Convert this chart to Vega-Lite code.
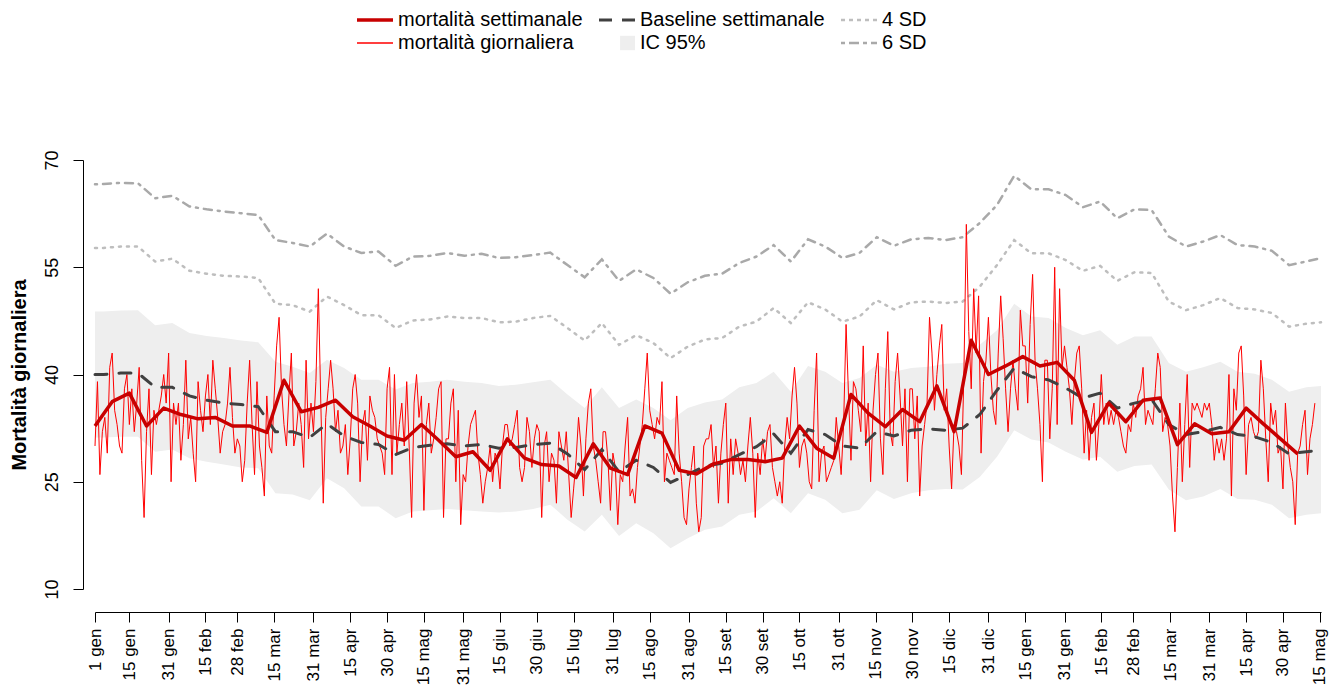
{
"$schema": "https://vega.github.io/schema/vega-lite/v6.json",
"width": 1226, "height": 429,
"autosize": {"type": "none"},
"padding": {"left": 95, "top": 160, "right": 13, "bottom": 105},
"background": "white",
"config": {"view": {"stroke": null}, "font": "Liberation Sans", "axis": {"grid": false, "domainColor": "#000", "tickColor": "#000", "labelColor": "#000", "titleColor": "#000", "labelFont": "Liberation Sans", "titleFont": "Liberation Sans"}},
"datasets": {
"riferimento": [
{"data":"2018-01-01T00:00:00Z","baseline":40.0,"ic_inf":31.2,"ic_sup":48.8,"sd4":57.7,"sd6":66.6},
{"data":"2018-01-04T12:00:00Z","baseline":40.0,"ic_inf":31.2,"ic_sup":48.8,"sd4":57.7,"sd6":66.65},
{"data":"2018-01-11T12:00:00Z","baseline":40.2,"ic_inf":31.3,"ic_sup":48.95,"sd4":57.9,"sd6":66.8},
{"data":"2018-01-18T12:00:00Z","baseline":40.2,"ic_inf":31.3,"ic_sup":49.0,"sd4":57.9,"sd6":66.75},
{"data":"2018-01-25T12:00:00Z","baseline":38.2,"ic_inf":29.2,"ic_sup":46.9,"sd4":55.8,"sd6":64.65},
{"data":"2018-02-01T12:00:00Z","baseline":38.2,"ic_inf":29.5,"ic_sup":47.2,"sd4":56.2,"sd6":65.0},
{"data":"2018-02-08T12:00:00Z","baseline":37.0,"ic_inf":28.3,"ic_sup":45.8,"sd4":54.5,"sd6":63.5},
{"data":"2018-02-15T12:00:00Z","baseline":36.4,"ic_inf":27.8,"ic_sup":45.4,"sd4":54.1,"sd6":63.1},
{"data":"2018-02-22T12:00:00Z","baseline":36.0,"ic_inf":27.4,"ic_sup":45.1,"sd4":53.8,"sd6":62.8},
{"data":"2018-03-01T12:00:00Z","baseline":35.8,"ic_inf":27.0,"ic_sup":44.75,"sd4":53.7,"sd6":62.55},
{"data":"2018-03-08T12:00:00Z","baseline":35.5,"ic_inf":26.9,"ic_sup":44.5,"sd4":53.5,"sd6":62.3},
{"data":"2018-03-15T12:00:00Z","baseline":32.0,"ic_inf":23.4,"ic_sup":41.8,"sd4":49.9,"sd6":58.8},
{"data":"2018-03-22T12:00:00Z","baseline":32.0,"ic_inf":23.2,"ic_sup":41.1,"sd4":49.7,"sd6":58.4},
{"data":"2018-03-29T12:00:00Z","baseline":31.2,"ic_inf":22.4,"ic_sup":40.2,"sd4":48.8,"sd6":57.9},
{"data":"2018-04-05T12:00:00Z","baseline":33.1,"ic_inf":25.5,"ic_sup":42.05,"sd4":50.9,"sd6":59.7},
{"data":"2018-04-12T12:00:00Z","baseline":31.4,"ic_inf":24.1,"ic_sup":40.9,"sd4":49.7,"sd6":57.9},
{"data":"2018-04-19T12:00:00Z","baseline":30.5,"ic_inf":21.55,"ic_sup":39.25,"sd4":48.3,"sd6":57.0},
{"data":"2018-04-26T12:00:00Z","baseline":30.2,"ic_inf":21.55,"ic_sup":39.25,"sd4":48.3,"sd6":57.2},
{"data":"2018-05-03T12:00:00Z","baseline":28.8,"ic_inf":19.9,"ic_sup":37.9,"sd4":46.5,"sd6":55.2},
{"data":"2018-05-10T12:00:00Z","baseline":29.8,"ic_inf":20.85,"ic_sup":38.8,"sd4":47.55,"sd6":56.5},
{"data":"2018-05-17T12:00:00Z","baseline":30.1,"ic_inf":21.0,"ic_sup":39.0,"sd4":47.7,"sd6":56.6},
{"data":"2018-05-24T12:00:00Z","baseline":30.3,"ic_inf":21.2,"ic_sup":39.25,"sd4":48.1,"sd6":57.0},
{"data":"2018-05-31T12:00:00Z","baseline":30.0,"ic_inf":21.0,"ic_sup":39.0,"sd4":47.9,"sd6":56.6},
{"data":"2018-06-07T12:00:00Z","baseline":30.2,"ic_inf":20.85,"ic_sup":38.8,"sd4":47.9,"sd6":56.9},
{"data":"2018-06-14T12:00:00Z","baseline":29.7,"ic_inf":20.7,"ic_sup":38.4,"sd4":47.3,"sd6":56.3},
{"data":"2018-06-21T12:00:00Z","baseline":29.8,"ic_inf":20.85,"ic_sup":38.55,"sd4":47.4,"sd6":56.4},
{"data":"2018-06-28T12:00:00Z","baseline":30.2,"ic_inf":21.2,"ic_sup":38.9,"sd4":47.9,"sd6":56.7},
{"data":"2018-07-05T12:00:00Z","baseline":30.4,"ic_inf":21.8,"ic_sup":39.25,"sd4":48.2,"sd6":57.05},
{"data":"2018-07-12T12:00:00Z","baseline":28.9,"ic_inf":19.7,"ic_sup":37.2,"sd4":46.5,"sd6":55.3},
{"data":"2018-07-19T12:00:00Z","baseline":26.7,"ic_inf":18.05,"ic_sup":35.3,"sd4":44.75,"sd6":53.6},
{"data":"2018-07-26T12:00:00Z","baseline":29.5,"ic_inf":20.4,"ic_sup":38.2,"sd4":47.2,"sd6":56.1},
{"data":"2018-08-02T12:00:00Z","baseline":26.4,"ic_inf":17.4,"ic_sup":35.3,"sd4":44.15,"sd6":53.1},
{"data":"2018-08-09T12:00:00Z","baseline":28.0,"ic_inf":19.2,"ic_sup":36.5,"sd4":45.5,"sd6":54.7},
{"data":"2018-08-16T12:00:00Z","baseline":27.0,"ic_inf":17.8,"ic_sup":35.3,"sd4":44.4,"sd6":53.5},
{"data":"2018-08-23T12:00:00Z","baseline":24.9,"ic_inf":15.7,"ic_sup":33.6,"sd4":42.3,"sd6":51.3},
{"data":"2018-08-30T12:00:00Z","baseline":26.0,"ic_inf":17.1,"ic_sup":35.3,"sd4":43.9,"sd6":52.9},
{"data":"2018-09-06T12:00:00Z","baseline":27.2,"ic_inf":18.3,"ic_sup":36.1,"sd4":44.9,"sd6":53.8},
{"data":"2018-09-13T12:00:00Z","baseline":27.6,"ic_inf":18.75,"ic_sup":36.5,"sd4":45.1,"sd6":54.1},
{"data":"2018-09-20T12:00:00Z","baseline":28.8,"ic_inf":20.4,"ic_sup":38.2,"sd4":46.7,"sd6":55.6},
{"data":"2018-09-27T12:00:00Z","baseline":29.9,"ic_inf":20.85,"ic_sup":38.8,"sd4":47.4,"sd6":56.5},
{"data":"2018-10-04T12:00:00Z","baseline":31.7,"ic_inf":22.7,"ic_sup":40.4,"sd4":49.3,"sd6":58.1},
{"data":"2018-10-11T12:00:00Z","baseline":29.0,"ic_inf":20.6,"ic_sup":37.6,"sd4":47.2,"sd6":55.8},
{"data":"2018-10-18T12:00:00Z","baseline":32.3,"ic_inf":23.4,"ic_sup":41.2,"sd4":50.1,"sd6":58.9},
{"data":"2018-10-25T12:00:00Z","baseline":31.6,"ic_inf":22.5,"ic_sup":40.4,"sd4":49.1,"sd6":57.9},
{"data":"2018-11-01T12:00:00Z","baseline":30.0,"ic_inf":20.6,"ic_sup":38.8,"sd4":47.4,"sd6":56.3},
{"data":"2018-11-08T12:00:00Z","baseline":29.7,"ic_inf":21.1,"ic_sup":39.5,"sd4":48.1,"sd6":57.0},
{"data":"2018-11-15T12:00:00Z","baseline":32.0,"ic_inf":23.8,"ic_sup":41.35,"sd4":50.4,"sd6":59.2},
{"data":"2018-11-22T12:00:00Z","baseline":31.4,"ic_inf":22.6,"ic_sup":40.4,"sd4":49.1,"sd6":58.0},
{"data":"2018-11-29T12:00:00Z","baseline":32.2,"ic_inf":23.4,"ic_sup":40.9,"sd4":50.1,"sd6":58.9},
{"data":"2018-12-06T12:00:00Z","baseline":32.4,"ic_inf":23.8,"ic_sup":41.1,"sd4":50.2,"sd6":59.1},
{"data":"2018-12-13T12:00:00Z","baseline":32.2,"ic_inf":24.0,"ic_sup":41.5,"sd4":50.0,"sd6":58.8},
{"data":"2018-12-20T12:00:00Z","baseline":32.5,"ic_inf":23.9,"ic_sup":41.6,"sd4":50.2,"sd6":59.2},
{"data":"2018-12-27T12:00:00Z","baseline":34.4,"ic_inf":25.65,"ic_sup":44.15,"sd4":52.3,"sd6":61.2},
{"data":"2019-01-03T12:00:00Z","baseline":37.8,"ic_inf":28.5,"ic_sup":46.2,"sd4":55.3,"sd6":63.7},
{"data":"2019-01-10T12:00:00Z","baseline":40.9,"ic_inf":32.2,"ic_sup":49.9,"sd4":58.8,"sd6":67.8},
{"data":"2019-01-17T12:00:00Z","baseline":39.7,"ic_inf":30.9,"ic_sup":48.1,"sd4":56.95,"sd6":65.9},
{"data":"2019-01-24T12:00:00Z","baseline":39.25,"ic_inf":30.5,"ic_sup":47.9,"sd4":56.95,"sd6":65.9},
{"data":"2019-01-31T12:00:00Z","baseline":38.1,"ic_inf":29.2,"ic_sup":46.5,"sd4":56.0,"sd6":65.1},
{"data":"2019-02-07T12:00:00Z","baseline":36.7,"ic_inf":28.1,"ic_sup":45.5,"sd4":54.5,"sd6":63.4},
{"data":"2019-02-14T12:00:00Z","baseline":37.4,"ic_inf":28.5,"ic_sup":46.2,"sd4":55.2,"sd6":64.2},
{"data":"2019-02-21T12:00:00Z","baseline":35.3,"ic_inf":26.4,"ic_sup":44.15,"sd4":53.1,"sd6":61.85},
{"data":"2019-02-28T12:00:00Z","baseline":36.0,"ic_inf":27.2,"ic_sup":45.3,"sd4":54.3,"sd6":63.1},
{"data":"2019-03-07T12:00:00Z","baseline":36.5,"ic_inf":27.4,"ic_sup":45.3,"sd4":54.2,"sd6":63.0},
{"data":"2019-03-14T12:00:00Z","baseline":33.0,"ic_inf":23.9,"ic_sup":41.6,"sd4":50.2,"sd6":59.3},
{"data":"2019-03-21T12:00:00Z","baseline":31.6,"ic_inf":22.4,"ic_sup":40.4,"sd4":49.0,"sd6":57.9},
{"data":"2019-03-28T12:00:00Z","baseline":32.0,"ic_inf":22.95,"ic_sup":41.0,"sd4":49.7,"sd6":58.6},
{"data":"2019-04-04T12:00:00Z","baseline":32.6,"ic_inf":24.0,"ic_sup":41.8,"sd4":50.7,"sd6":59.5},
{"data":"2019-04-11T12:00:00Z","baseline":31.6,"ic_inf":22.6,"ic_sup":40.4,"sd4":49.3,"sd6":58.1},
{"data":"2019-04-18T12:00:00Z","baseline":31.3,"ic_inf":22.5,"ic_sup":40.1,"sd4":49.1,"sd6":57.9},
{"data":"2019-04-25T12:00:00Z","baseline":30.5,"ic_inf":21.8,"ic_sup":39.25,"sd4":48.6,"sd6":57.3},
{"data":"2019-05-02T12:00:00Z","baseline":28.9,"ic_inf":19.9,"ic_sup":37.6,"sd4":46.7,"sd6":55.3},
{"data":"2019-05-09T12:00:00Z","baseline":29.2,"ic_inf":20.4,"ic_sup":38.2,"sd4":47.1,"sd6":55.8},
{"data":"2019-05-15T12:00:00Z","baseline":29.4,"ic_inf":20.6,"ic_sup":38.4,"sd4":47.3,"sd6":56.3}
],
"settimanale": [
{"data":"2018-01-01","valore":32.8},{"data":"2018-01-08","valore":36.2},{"data":"2018-01-15","valore":37.4},{"data":"2018-01-22","valore":32.8},{"data":"2018-01-29","valore":35.3},
{"data":"2018-02-05","valore":34.4},{"data":"2018-02-12","valore":33.8},{"data":"2018-02-19","valore":34.0},{"data":"2018-02-26","valore":32.8},
{"data":"2018-03-05","valore":32.8},{"data":"2018-03-12","valore":31.9},{"data":"2018-03-19","valore":39.2},{"data":"2018-03-26","valore":34.8},
{"data":"2018-04-02","valore":35.4},{"data":"2018-04-09","valore":36.4},{"data":"2018-04-16","valore":34.1},{"data":"2018-04-23","valore":32.8},{"data":"2018-04-30","valore":31.4},
{"data":"2018-05-07","valore":30.8},{"data":"2018-05-14","valore":33.0},{"data":"2018-05-21","valore":30.8},{"data":"2018-05-28","valore":28.5},
{"data":"2018-06-04","valore":29.2},{"data":"2018-06-11","valore":26.6},{"data":"2018-06-18","valore":31.0},{"data":"2018-06-25","valore":28.3},
{"data":"2018-07-02","valore":27.4},{"data":"2018-07-09","valore":27.2},{"data":"2018-07-16","valore":25.6},{"data":"2018-07-23","valore":30.3},{"data":"2018-07-30","valore":26.9},
{"data":"2018-08-06","valore":26.0},{"data":"2018-08-13","valore":32.8},{"data":"2018-08-20","valore":31.8},{"data":"2018-08-27","valore":26.6},
{"data":"2018-09-03","valore":26.1},{"data":"2018-09-10","valore":27.5},{"data":"2018-09-17","valore":28.1},{"data":"2018-09-24","valore":28.1},
{"data":"2018-10-01","valore":27.8},{"data":"2018-10-08","valore":28.3},{"data":"2018-10-15","valore":32.8},{"data":"2018-10-22","valore":29.7},{"data":"2018-10-29","valore":28.3},
{"data":"2018-11-05","valore":37.2},{"data":"2018-11-12","valore":34.6},{"data":"2018-11-19","valore":32.7},{"data":"2018-11-26","valore":35.1},
{"data":"2018-12-03","valore":33.4},{"data":"2018-12-10","valore":38.4},{"data":"2018-12-17","valore":32.0},{"data":"2018-12-24","valore":44.8},{"data":"2018-12-31","valore":40.0},
{"data":"2019-01-07","valore":41.2},{"data":"2019-01-14","valore":42.5},{"data":"2019-01-21","valore":41.2},{"data":"2019-01-28","valore":41.7},
{"data":"2019-02-04","valore":39.2},{"data":"2019-02-11","valore":31.9},{"data":"2019-02-18","valore":36.0},{"data":"2019-02-25","valore":33.4},
{"data":"2019-03-04","valore":36.4},{"data":"2019-03-11","valore":36.7},{"data":"2019-03-18","valore":30.2},{"data":"2019-03-25","valore":33.1},
{"data":"2019-04-01","valore":31.7},{"data":"2019-04-08","valore":32.0},{"data":"2019-04-15","valore":35.3},{"data":"2019-04-22","valore":33.1},{"data":"2019-04-29","valore":31.0},
{"data":"2019-05-06","valore":28.9}
],
"giornaliera": [
{"data":"2018-01-01","valore":30},{"data":"2018-01-02","valore":39},{"data":"2018-01-03","valore":26},{"data":"2018-01-04","valore":32},{"data":"2018-01-05","valore":34},{"data":"2018-01-06","valore":29},{"data":"2018-01-07","valore":41},{"data":"2018-01-08","valore":43},{"data":"2018-01-09","valore":35},{"data":"2018-01-10","valore":33},{"data":"2018-01-11","valore":30},{"data":"2018-01-12","valore":29},{"data":"2018-01-13","valore":38},{"data":"2018-01-14","valore":40},{"data":"2018-01-15","valore":33},{"data":"2018-01-16","valore":38},{"data":"2018-01-17","valore":32},{"data":"2018-01-18","valore":36},{"data":"2018-01-19","valore":41},{"data":"2018-01-20","valore":28},{"data":"2018-01-21","valore":20},{"data":"2018-01-22","valore":32},{"data":"2018-01-23","valore":38},{"data":"2018-01-24","valore":26},{"data":"2018-01-25","valore":35},{"data":"2018-01-26","valore":33},{"data":"2018-01-27","valore":35},{"data":"2018-01-28","valore":37},{"data":"2018-01-29","valore":40},{"data":"2018-01-30","valore":36},{"data":"2018-01-31","valore":43},
{"data":"2018-02-01","valore":25},{"data":"2018-02-02","valore":36},{"data":"2018-02-03","valore":33},{"data":"2018-02-04","valore":36},{"data":"2018-02-05","valore":28},{"data":"2018-02-06","valore":33},{"data":"2018-02-07","valore":42},{"data":"2018-02-08","valore":31},{"data":"2018-02-09","valore":34},{"data":"2018-02-10","valore":29},{"data":"2018-02-11","valore":25},{"data":"2018-02-12","valore":39},{"data":"2018-02-13","valore":35},{"data":"2018-02-14","valore":32},{"data":"2018-02-15","valore":37},{"data":"2018-02-16","valore":40},{"data":"2018-02-17","valore":33},{"data":"2018-02-18","valore":42},{"data":"2018-02-19","valore":38},{"data":"2018-02-20","valore":34},{"data":"2018-02-21","valore":29},{"data":"2018-02-22","valore":32},{"data":"2018-02-23","valore":33},{"data":"2018-02-24","valore":36},{"data":"2018-02-25","valore":41},{"data":"2018-02-26","valore":34},{"data":"2018-02-27","valore":29},{"data":"2018-02-28","valore":31},
{"data":"2018-03-01","valore":30},{"data":"2018-03-02","valore":25},{"data":"2018-03-03","valore":28},{"data":"2018-03-04","valore":36},{"data":"2018-03-05","valore":42},{"data":"2018-03-06","valore":33},{"data":"2018-03-07","valore":26},{"data":"2018-03-08","valore":39},{"data":"2018-03-09","valore":30},{"data":"2018-03-10","valore":27},{"data":"2018-03-11","valore":23},{"data":"2018-03-12","valore":37},{"data":"2018-03-13","valore":30},{"data":"2018-03-14","valore":29},{"data":"2018-03-15","valore":37},{"data":"2018-03-16","valore":44},{"data":"2018-03-17","valore":48},{"data":"2018-03-18","valore":38},{"data":"2018-03-19","valore":33},{"data":"2018-03-20","valore":30},{"data":"2018-03-21","valore":37},{"data":"2018-03-22","valore":43},{"data":"2018-03-23","valore":30},{"data":"2018-03-24","valore":32},{"data":"2018-03-25","valore":36},{"data":"2018-03-26","valore":33},{"data":"2018-03-27","valore":27},{"data":"2018-03-28","valore":42},{"data":"2018-03-29","valore":31},{"data":"2018-03-30","valore":36},{"data":"2018-03-31","valore":32},
{"data":"2018-04-01","valore":39},{"data":"2018-04-02","valore":52},{"data":"2018-04-03","valore":36},{"data":"2018-04-04","valore":22},{"data":"2018-04-05","valore":34},{"data":"2018-04-06","valore":38},{"data":"2018-04-07","valore":42},{"data":"2018-04-08","valore":38},{"data":"2018-04-09","valore":32},{"data":"2018-04-10","valore":35},{"data":"2018-04-11","valore":29},{"data":"2018-04-12","valore":30},{"data":"2018-04-13","valore":33},{"data":"2018-04-14","valore":26},{"data":"2018-04-15","valore":31},{"data":"2018-04-16","valore":38},{"data":"2018-04-17","valore":40},{"data":"2018-04-18","valore":36},{"data":"2018-04-19","valore":25},{"data":"2018-04-20","valore":33},{"data":"2018-04-21","valore":35},{"data":"2018-04-22","valore":28},{"data":"2018-04-23","valore":37},{"data":"2018-04-24","valore":35},{"data":"2018-04-25","valore":34},{"data":"2018-04-26","valore":31},{"data":"2018-04-27","valore":30},{"data":"2018-04-28","valore":29},{"data":"2018-04-29","valore":26},{"data":"2018-04-30","valore":38},
{"data":"2018-05-01","valore":41},{"data":"2018-05-02","valore":26},{"data":"2018-05-03","valore":40},{"data":"2018-05-04","valore":29},{"data":"2018-05-05","valore":33},{"data":"2018-05-06","valore":36},{"data":"2018-05-07","valore":30},{"data":"2018-05-08","valore":39},{"data":"2018-05-09","valore":30},{"data":"2018-05-10","valore":20},{"data":"2018-05-11","valore":36},{"data":"2018-05-12","valore":40},{"data":"2018-05-13","valore":34},{"data":"2018-05-14","valore":37},{"data":"2018-05-15","valore":21},{"data":"2018-05-16","valore":33},{"data":"2018-05-17","valore":36},{"data":"2018-05-18","valore":29},{"data":"2018-05-19","valore":31},{"data":"2018-05-20","valore":34},{"data":"2018-05-21","valore":38},{"data":"2018-05-22","valore":39},{"data":"2018-05-23","valore":20},{"data":"2018-05-24","valore":31},{"data":"2018-05-25","valore":31},{"data":"2018-05-26","valore":36},{"data":"2018-05-27","valore":38},{"data":"2018-05-28","valore":25},{"data":"2018-05-29","valore":35},{"data":"2018-05-30","valore":19},{"data":"2018-05-31","valore":26},
{"data":"2018-06-01","valore":25},{"data":"2018-06-02","valore":30},{"data":"2018-06-03","valore":33},{"data":"2018-06-04","valore":34},{"data":"2018-06-05","valore":35},{"data":"2018-06-06","valore":29},{"data":"2018-06-07","valore":26},{"data":"2018-06-08","valore":22},{"data":"2018-06-09","valore":25},{"data":"2018-06-10","valore":27},{"data":"2018-06-11","valore":30},{"data":"2018-06-12","valore":25},{"data":"2018-06-13","valore":29},{"data":"2018-06-14","valore":28},{"data":"2018-06-15","valore":24},{"data":"2018-06-16","valore":30},{"data":"2018-06-17","valore":33},{"data":"2018-06-18","valore":33},{"data":"2018-06-19","valore":30},{"data":"2018-06-20","valore":31},{"data":"2018-06-21","valore":33},{"data":"2018-06-22","valore":35},{"data":"2018-06-23","valore":27},{"data":"2018-06-24","valore":25},{"data":"2018-06-25","valore":27},{"data":"2018-06-26","valore":34},{"data":"2018-06-27","valore":32},{"data":"2018-06-28","valore":27},{"data":"2018-06-29","valore":31},{"data":"2018-06-30","valore":33},
{"data":"2018-07-01","valore":32},{"data":"2018-07-02","valore":20},{"data":"2018-07-03","valore":30},{"data":"2018-07-04","valore":32},{"data":"2018-07-05","valore":25},{"data":"2018-07-06","valore":29},{"data":"2018-07-07","valore":28},{"data":"2018-07-08","valore":22},{"data":"2018-07-09","valore":32},{"data":"2018-07-10","valore":30},{"data":"2018-07-11","valore":28},{"data":"2018-07-12","valore":32},{"data":"2018-07-13","valore":26},{"data":"2018-07-14","valore":20},{"data":"2018-07-15","valore":24},{"data":"2018-07-16","valore":28},{"data":"2018-07-17","valore":34},{"data":"2018-07-18","valore":30},{"data":"2018-07-19","valore":23},{"data":"2018-07-20","valore":31},{"data":"2018-07-21","valore":36},{"data":"2018-07-22","valore":38},{"data":"2018-07-23","valore":30},{"data":"2018-07-24","valore":28},{"data":"2018-07-25","valore":25},{"data":"2018-07-26","valore":22},{"data":"2018-07-27","valore":32},{"data":"2018-07-28","valore":32},{"data":"2018-07-29","valore":28},{"data":"2018-07-30","valore":21},{"data":"2018-07-31","valore":29},
{"data":"2018-08-01","valore":27},{"data":"2018-08-02","valore":19},{"data":"2018-08-03","valore":26},{"data":"2018-08-04","valore":25},{"data":"2018-08-05","valore":30},{"data":"2018-08-06","valore":34},{"data":"2018-08-07","valore":23},{"data":"2018-08-08","valore":24},{"data":"2018-08-09","valore":22},{"data":"2018-08-10","valore":27},{"data":"2018-08-11","valore":30},{"data":"2018-08-12","valore":33},{"data":"2018-08-13","valore":38},{"data":"2018-08-14","valore":43},{"data":"2018-08-15","valore":35},{"data":"2018-08-16","valore":33},{"data":"2018-08-17","valore":31},{"data":"2018-08-18","valore":34},{"data":"2018-08-19","valore":33},{"data":"2018-08-20","valore":39},{"data":"2018-08-21","valore":25},{"data":"2018-08-22","valore":29},{"data":"2018-08-23","valore":28},{"data":"2018-08-24","valore":27},{"data":"2018-08-25","valore":26},{"data":"2018-08-26","valore":37},{"data":"2018-08-27","valore":29},{"data":"2018-08-28","valore":25},{"data":"2018-08-29","valore":20},{"data":"2018-08-30","valore":19},{"data":"2018-08-31","valore":24},
{"data":"2018-09-01","valore":27},{"data":"2018-09-02","valore":30},{"data":"2018-09-03","valore":22},{"data":"2018-09-04","valore":18},{"data":"2018-09-05","valore":20},{"data":"2018-09-06","valore":30},{"data":"2018-09-07","valore":31},{"data":"2018-09-08","valore":31},{"data":"2018-09-09","valore":33},{"data":"2018-09-10","valore":27},{"data":"2018-09-11","valore":30},{"data":"2018-09-12","valore":22},{"data":"2018-09-13","valore":29},{"data":"2018-09-14","valore":33},{"data":"2018-09-15","valore":36},{"data":"2018-09-16","valore":22},{"data":"2018-09-17","valore":31},{"data":"2018-09-18","valore":26},{"data":"2018-09-19","valore":31},{"data":"2018-09-20","valore":29},{"data":"2018-09-21","valore":26},{"data":"2018-09-22","valore":28},{"data":"2018-09-23","valore":25},{"data":"2018-09-24","valore":30},{"data":"2018-09-25","valore":34},{"data":"2018-09-26","valore":29},{"data":"2018-09-27","valore":20},{"data":"2018-09-28","valore":29},{"data":"2018-09-29","valore":26},{"data":"2018-09-30","valore":31},
{"data":"2018-10-01","valore":28},{"data":"2018-10-02","valore":32},{"data":"2018-10-03","valore":33},{"data":"2018-10-04","valore":27},{"data":"2018-10-05","valore":25},{"data":"2018-10-06","valore":23},{"data":"2018-10-07","valore":25},{"data":"2018-10-08","valore":22},{"data":"2018-10-09","valore":30},{"data":"2018-10-10","valore":34},{"data":"2018-10-11","valore":31},{"data":"2018-10-12","valore":37},{"data":"2018-10-13","valore":41},{"data":"2018-10-14","valore":36},{"data":"2018-10-15","valore":27},{"data":"2018-10-16","valore":30},{"data":"2018-10-17","valore":31},{"data":"2018-10-18","valore":29},{"data":"2018-10-19","valore":25},{"data":"2018-10-20","valore":24},{"data":"2018-10-21","valore":35},{"data":"2018-10-22","valore":43},{"data":"2018-10-23","valore":25},{"data":"2018-10-24","valore":29},{"data":"2018-10-25","valore":30},{"data":"2018-10-26","valore":25},{"data":"2018-10-27","valore":26},{"data":"2018-10-28","valore":27},{"data":"2018-10-29","valore":28},{"data":"2018-10-30","valore":34},{"data":"2018-10-31","valore":30},
{"data":"2018-11-01","valore":26},{"data":"2018-11-02","valore":33},{"data":"2018-11-03","valore":47},{"data":"2018-11-04","valore":37},{"data":"2018-11-05","valore":28},{"data":"2018-11-06","valore":39},{"data":"2018-11-07","valore":38},{"data":"2018-11-08","valore":35},{"data":"2018-11-09","valore":32},{"data":"2018-11-10","valore":44},{"data":"2018-11-11","valore":30},{"data":"2018-11-12","valore":36},{"data":"2018-11-13","valore":25},{"data":"2018-11-14","valore":35},{"data":"2018-11-15","valore":40},{"data":"2018-11-16","valore":43},{"data":"2018-11-17","valore":31},{"data":"2018-11-18","valore":26},{"data":"2018-11-19","valore":38},{"data":"2018-11-20","valore":46},{"data":"2018-11-21","valore":32},{"data":"2018-11-22","valore":30},{"data":"2018-11-23","valore":39},{"data":"2018-11-24","valore":43},{"data":"2018-11-25","valore":37},{"data":"2018-11-26","valore":30},{"data":"2018-11-27","valore":38},{"data":"2018-11-28","valore":25},{"data":"2018-11-29","valore":38},{"data":"2018-11-30","valore":38},
{"data":"2018-12-01","valore":31},{"data":"2018-12-02","valore":37},{"data":"2018-12-03","valore":23},{"data":"2018-12-04","valore":30},{"data":"2018-12-05","valore":33},{"data":"2018-12-06","valore":36},{"data":"2018-12-07","valore":48},{"data":"2018-12-08","valore":43},{"data":"2018-12-09","valore":35},{"data":"2018-12-10","valore":40},{"data":"2018-12-11","valore":44},{"data":"2018-12-12","valore":47},{"data":"2018-12-13","valore":35},{"data":"2018-12-14","valore":38},{"data":"2018-12-15","valore":30},{"data":"2018-12-16","valore":24},{"data":"2018-12-17","valore":33},{"data":"2018-12-18","valore":32},{"data":"2018-12-19","valore":30},{"data":"2018-12-20","valore":26},{"data":"2018-12-21","valore":40},{"data":"2018-12-22","valore":61},{"data":"2018-12-23","valore":46},{"data":"2018-12-24","valore":38},{"data":"2018-12-25","valore":52},{"data":"2018-12-26","valore":43},{"data":"2018-12-27","valore":51},{"data":"2018-12-28","valore":29},{"data":"2018-12-29","valore":39},{"data":"2018-12-30","valore":42},{"data":"2018-12-31","valore":48},
{"data":"2019-01-01","valore":40},{"data":"2019-01-02","valore":35},{"data":"2019-01-03","valore":33},{"data":"2019-01-04","valore":43},{"data":"2019-01-05","valore":51},{"data":"2019-01-06","valore":45},{"data":"2019-01-07","valore":38},{"data":"2019-01-08","valore":32},{"data":"2019-01-09","valore":38},{"data":"2019-01-10","valore":42},{"data":"2019-01-11","valore":38},{"data":"2019-01-12","valore":35},{"data":"2019-01-13","valore":49},{"data":"2019-01-14","valore":44},{"data":"2019-01-15","valore":44},{"data":"2019-01-16","valore":36},{"data":"2019-01-17","valore":47},{"data":"2019-01-18","valore":54},{"data":"2019-01-19","valore":42},{"data":"2019-01-20","valore":38},{"data":"2019-01-21","valore":33},{"data":"2019-01-22","valore":25},{"data":"2019-01-23","valore":42},{"data":"2019-01-24","valore":42},{"data":"2019-01-25","valore":31},{"data":"2019-01-26","valore":38},{"data":"2019-01-27","valore":55},{"data":"2019-01-28","valore":33},{"data":"2019-01-29","valore":52},{"data":"2019-01-30","valore":41},{"data":"2019-01-31","valore":44},
{"data":"2019-02-01","valore":41},{"data":"2019-02-02","valore":38},{"data":"2019-02-03","valore":33},{"data":"2019-02-04","valore":39},{"data":"2019-02-05","valore":43},{"data":"2019-02-06","valore":44},{"data":"2019-02-07","valore":38},{"data":"2019-02-08","valore":29},{"data":"2019-02-09","valore":35},{"data":"2019-02-10","valore":28},{"data":"2019-02-11","valore":34},{"data":"2019-02-12","valore":36},{"data":"2019-02-13","valore":28},{"data":"2019-02-14","valore":33},{"data":"2019-02-15","valore":40},{"data":"2019-02-16","valore":33},{"data":"2019-02-17","valore":36},{"data":"2019-02-18","valore":33},{"data":"2019-02-19","valore":35},{"data":"2019-02-20","valore":33},{"data":"2019-02-21","valore":35},{"data":"2019-02-22","valore":34},{"data":"2019-02-23","valore":32},{"data":"2019-02-24","valore":30},{"data":"2019-02-25","valore":29},{"data":"2019-02-26","valore":33},{"data":"2019-02-27","valore":32},{"data":"2019-02-28","valore":36},
{"data":"2019-03-01","valore":34},{"data":"2019-03-02","valore":37},{"data":"2019-03-03","valore":38},{"data":"2019-03-04","valore":41},{"data":"2019-03-05","valore":33},{"data":"2019-03-06","valore":35},{"data":"2019-03-07","valore":34},{"data":"2019-03-08","valore":33},{"data":"2019-03-09","valore":38},{"data":"2019-03-10","valore":43},{"data":"2019-03-11","valore":41},{"data":"2019-03-12","valore":32},{"data":"2019-03-13","valore":34},{"data":"2019-03-14","valore":33},{"data":"2019-03-15","valore":30},{"data":"2019-03-16","valore":23},{"data":"2019-03-17","valore":18},{"data":"2019-03-18","valore":27},{"data":"2019-03-19","valore":36},{"data":"2019-03-20","valore":25},{"data":"2019-03-21","valore":33},{"data":"2019-03-22","valore":40},{"data":"2019-03-23","valore":27},{"data":"2019-03-24","valore":36},{"data":"2019-03-25","valore":35},{"data":"2019-03-26","valore":36},{"data":"2019-03-27","valore":35},{"data":"2019-03-28","valore":34},{"data":"2019-03-29","valore":36},{"data":"2019-03-30","valore":35},{"data":"2019-03-31","valore":36},
{"data":"2019-04-01","valore":33},{"data":"2019-04-02","valore":28},{"data":"2019-04-03","valore":31},{"data":"2019-04-04","valore":29},{"data":"2019-04-05","valore":31},{"data":"2019-04-06","valore":28},{"data":"2019-04-07","valore":31},{"data":"2019-04-08","valore":40},{"data":"2019-04-09","valore":23},{"data":"2019-04-10","valore":38},{"data":"2019-04-11","valore":35},{"data":"2019-04-12","valore":43},{"data":"2019-04-13","valore":44},{"data":"2019-04-14","valore":37},{"data":"2019-04-15","valore":26},{"data":"2019-04-16","valore":33},{"data":"2019-04-17","valore":34},{"data":"2019-04-18","valore":32},{"data":"2019-04-19","valore":31},{"data":"2019-04-20","valore":32},{"data":"2019-04-21","valore":42},{"data":"2019-04-22","valore":38},{"data":"2019-04-23","valore":31},{"data":"2019-04-24","valore":25},{"data":"2019-04-25","valore":36},{"data":"2019-04-26","valore":33},{"data":"2019-04-27","valore":35},{"data":"2019-04-28","valore":29},{"data":"2019-04-29","valore":30},{"data":"2019-04-30","valore":24},
{"data":"2019-05-01","valore":36},{"data":"2019-05-02","valore":30},{"data":"2019-05-03","valore":27},{"data":"2019-05-04","valore":25},{"data":"2019-05-05","valore":19},{"data":"2019-05-06","valore":29},{"data":"2019-05-07","valore":30},{"data":"2019-05-08","valore":33},{"data":"2019-05-09","valore":35},{"data":"2019-05-10","valore":26},{"data":"2019-05-11","valore":31},{"data":"2019-05-12","valore":33},{"data":"2019-05-13","valore":36}
]
},
"layer": [
{
"data": {"name": "riferimento"},
"mark": {"type": "area", "opacity": 1},
"encoding": {
"x": {"field": "data", "type": "temporal", "title": null,
 "scale": {"type": "utc", "domain": [{"year": 2018, "month": 1, "date": 1, "utc": true}, {"year": 2019, "month": 5, "date": 15, "hours": 12, "utc": true}]},
 "axis": {"values": [
  {"year":2018,"month":1,"date":1,"utc":true},{"year":2018,"month":1,"date":15,"utc":true},{"year":2018,"month":1,"date":31,"utc":true},
  {"year":2018,"month":2,"date":15,"utc":true},{"year":2018,"month":2,"date":28,"utc":true},{"year":2018,"month":3,"date":15,"utc":true},
  {"year":2018,"month":3,"date":31,"utc":true},{"year":2018,"month":4,"date":15,"utc":true},{"year":2018,"month":4,"date":30,"utc":true},
  {"year":2018,"month":5,"date":15,"utc":true},{"year":2018,"month":5,"date":31,"utc":true},{"year":2018,"month":6,"date":15,"utc":true},
  {"year":2018,"month":6,"date":30,"utc":true},{"year":2018,"month":7,"date":15,"utc":true},{"year":2018,"month":7,"date":31,"utc":true},
  {"year":2018,"month":8,"date":15,"utc":true},{"year":2018,"month":8,"date":31,"utc":true},{"year":2018,"month":9,"date":15,"utc":true},
  {"year":2018,"month":9,"date":30,"utc":true},{"year":2018,"month":10,"date":15,"utc":true},{"year":2018,"month":10,"date":31,"utc":true},
  {"year":2018,"month":11,"date":15,"utc":true},{"year":2018,"month":11,"date":30,"utc":true},{"year":2018,"month":12,"date":15,"utc":true},
  {"year":2018,"month":12,"date":31,"utc":true},{"year":2019,"month":1,"date":15,"utc":true},{"year":2019,"month":1,"date":31,"utc":true},
  {"year":2019,"month":2,"date":15,"utc":true},{"year":2019,"month":2,"date":28,"utc":true},{"year":2019,"month":3,"date":15,"utc":true},
  {"year":2019,"month":3,"date":31,"utc":true},{"year":2019,"month":4,"date":15,"utc":true},{"year":2019,"month":4,"date":30,"utc":true},
  {"year":2019,"month":5,"date":15,"utc":true}],
  "tickCount": 60,
  "labelExpr": "utcdate(datum.value) + ' ' + ['gen','feb','mar','apr','mag','giu','lug','ago','set','ott','nov','dic'][utcmonth(datum.value)]",
  "labelAngle": -90, "labelFontSize": 17, "labelPadding": 6, "tickSize": 10, "offset": 23,
  "labelOverlap": false, "labelFlush": false, "labelBound": false, "domainWidth": 1, "tickWidth": 1}},
"y": {"field": "ic_inf", "type": "quantitative", "title": "Mortalità giornaliera",
 "scale": {"domain": [10, 70], "nice": false, "zero": false},
 "axis": {"values": [10, 25, 40, 55, 70], "labelAngle": -90, "labelFontSize": 18, "labelPadding": 12, "tickSize": 10, "offset": 12,
  "titleFontSize": 20, "titleFontWeight": "bold", "titlePadding": 14, "domainWidth": 1, "tickWidth": 1}},
"y2": {"field": "ic_sup"},
"color": {"datum": "IC 95%", "type": "nominal",
 "scale": {"domain": ["mortalità settimanale", "Baseline settimanale", "4 SD", "mortalità giornaliera", "IC 95%", "6 SD"],
           "range": ["#C80000", "#404040", "#BEBEBE", "#FF0000", "#EEEEEE", "#A9A9A9"]},
 "legend": {"orient": "none", "legendX": 262, "legendY": -150, "columns": 3, "direction": "horizontal", "title": null,
   "symbolSize": 1296, "symbolOffset": 8,
   "symbolType": {"expr": "datum.value === 'IC 95%' ? 'M0.17,-0.4H1V0.4H0.17Z' : 'stroke'"},
   "symbolDash": {"expr": "datum.value === 'Baseline settimanale' ? [13, 10] : datum.value === '4 SD' ? [4, 4] : datum.value === '6 SD' ? [4, 4, 10, 4] : [1, 0]"},
   "symbolStrokeWidth": {"expr": "datum.value === 'mortalità giornaliera' ? 1.3 : datum.value === 'IC 95%' ? 0 : datum.value === 'mortalità settimanale' ? 3.5 : datum.value === 'Baseline settimanale' ? 3 : 2.5"},
   "symbolFillColor": {"expr": "datum.value === 'IC 95%' ? '#D3D3D3' : 'transparent'"},
   "symbolOpacity": 1,
   "labelFontSize": 20, "labelFont": "Liberation Sans", "labelColor": "#000", "labelLimit": 400, "labelOffset": 13,
   "columnPadding": 10, "rowPadding": 3, "gridAlign": "all", "padding": 0,
   "encode": {"symbols": {"fill": {"value": {"expr": "datum.value === 'IC 95%' ? '#D3D3D3' : 'transparent'"}}}},
   "encoding": {"symbols": {"fill": {"value": {"expr": "datum.value === 'IC 95%' ? '#D3D3D3' : 'transparent'"}}}}}}
}
},
{
"data": {"name": "riferimento"},
"mark": {"type": "line", "strokeWidth": 2.5, "strokeDash": [2, 6, 8, 6], "strokeCap": "round"},
"encoding": {
"x": {"field": "data", "type": "temporal", "title": null},
"y": {"field": "sd6", "type": "quantitative", "title": "Mortalità giornaliera"},
"color": {"datum": "6 SD", "type": "nominal"}
}
},
{
"data": {"name": "riferimento"},
"mark": {"type": "line", "strokeWidth": 2.5, "strokeDash": [2, 6], "strokeCap": "round"},
"encoding": {
"x": {"field": "data", "type": "temporal", "title": null},
"y": {"field": "sd4", "type": "quantitative", "title": "Mortalità giornaliera"},
"color": {"datum": "4 SD", "type": "nominal"}
}
},
{
"data": {"name": "giornaliera"},
"mark": {"type": "line", "strokeWidth": 1},
"encoding": {
"x": {"field": "data", "type": "temporal", "title": null},
"y": {"field": "valore", "type": "quantitative", "title": "Mortalità giornaliera"},
"color": {"datum": "mortalità giornaliera", "type": "nominal"}
}
},
{
"data": {"name": "riferimento"},
"mark": {"type": "line", "strokeWidth": 3, "strokeDash": [12, 12], "strokeCap": "round"},
"encoding": {
"x": {"field": "data", "type": "temporal", "title": null},
"y": {"field": "baseline", "type": "quantitative", "title": "Mortalità giornaliera"},
"color": {"datum": "Baseline settimanale", "type": "nominal"}
}
},
{
"data": {"name": "settimanale"},
"mark": {"type": "line", "strokeWidth": 3.5, "strokeJoin": "round"},
"encoding": {
"x": {"field": "data", "type": "temporal", "title": null},
"y": {"field": "valore", "type": "quantitative", "title": "Mortalità giornaliera"},
"color": {"datum": "mortalità settimanale", "type": "nominal"}
}
}
]
}
